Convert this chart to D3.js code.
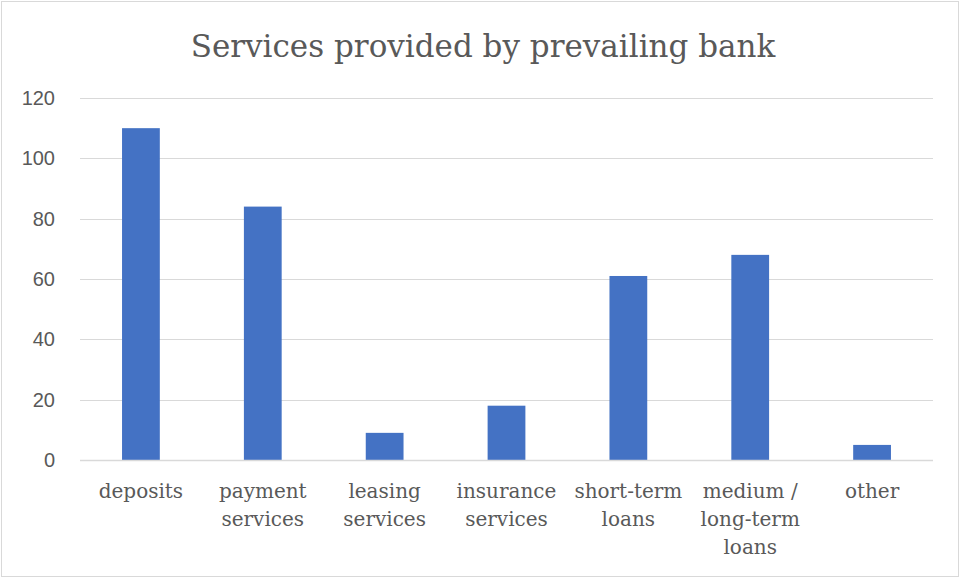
<!DOCTYPE html>
<html><head><meta charset="utf-8">
<script src="https://cdn.jsdelivr.net/npm/d3@7"></script>
<style>body{margin:0;background:#fff;} svg{display:block;}</style>
</head><body>
<svg id="c" width="961" height="578"></svg>
<script>
const categories = [["deposits"],["payment","services"],["leasing","services"],["insurance","services"],["short-term","loans"],["medium /","long-term","loans"],["other"]];
const categoryKeys = ["deposits","payment services","leasing services","insurance services","short-term loans","medium / long-term loans","other"];
const values = [110,84,9,18,61,68,5];
const yTicks = [0,20,40,60,80,100,120];
const title = "Services provided by prevailing bank";

(function(){
const svg = d3.select("#c");
const W=961,H=578;
svg.append("rect").attr("x",1.5).attr("y",1.5).attr("width",W-4).attr("height",H-3).attr("fill","#fff").attr("stroke","#d9d9d9").attr("stroke-width",1);

const pl=80,pr=933,pt=98,pb=460;
const x = d3.scaleBand().domain(categoryKeys).range([pl,pr]).padding(0);
const y = d3.scaleLinear().domain([0,120]).range([pb,pt]);

const grid = svg.append("g");
grid.selectAll("line").data(yTicks.filter(d=>d>0)).join("line")
 .attr("x1",pl).attr("x2",pr).attr("y1",d=>Math.round(y(d))+0.5).attr("y2",d=>Math.round(y(d))+0.5)
 .attr("stroke","#d9d9d9").attr("stroke-width",1);

const yAxis = svg.append("g").attr("transform",`translate(${pl},0)`)
 .call(d3.axisLeft(y).tickValues(yTicks).tickSize(0).tickPadding(25));
yAxis.select(".domain").remove();
yAxis.selectAll("text").attr("font-family","'Liberation Sans', Arial, sans-serif").attr("font-size","20px").attr("fill","#595959");

const bw = x.bandwidth()*0.31;
svg.append("g").selectAll("rect").data(values).join("rect")
 .attr("x",(d,i)=>x(categoryKeys[i])+x.bandwidth()/2-bw/2)
 .attr("width",bw)
 .attr("y",d=>y(d)).attr("height",d=>y(0)-y(d))
 .attr("fill","#4472C4");

svg.append("line").attr("x1",pl).attr("x2",pr).attr("y1",pb+0.5).attr("y2",pb+0.5).attr("stroke","#d9d9d9").attr("stroke-width",1.5);

const xl = svg.append("g");
categories.forEach((lines,i)=>{
  const t = xl.append("text").attr("text-anchor","middle")
    .attr("font-family","'DejaVu Serif', 'Liberation Serif', serif").attr("font-size","20px").attr("fill","#595959");
  lines.forEach((ln,j)=>{
    t.append("tspan").attr("x",x(categoryKeys[i])+x.bandwidth()/2).attr("y",498+j*28).text(ln);
  });
});

svg.append("text").attr("x",483).attr("y",57).attr("text-anchor","middle")
 .attr("font-family","'DejaVu Serif', 'Liberation Serif', serif").attr("font-size","31px").attr("fill","#595959").text(title);
})();
</script>
</body></html>
